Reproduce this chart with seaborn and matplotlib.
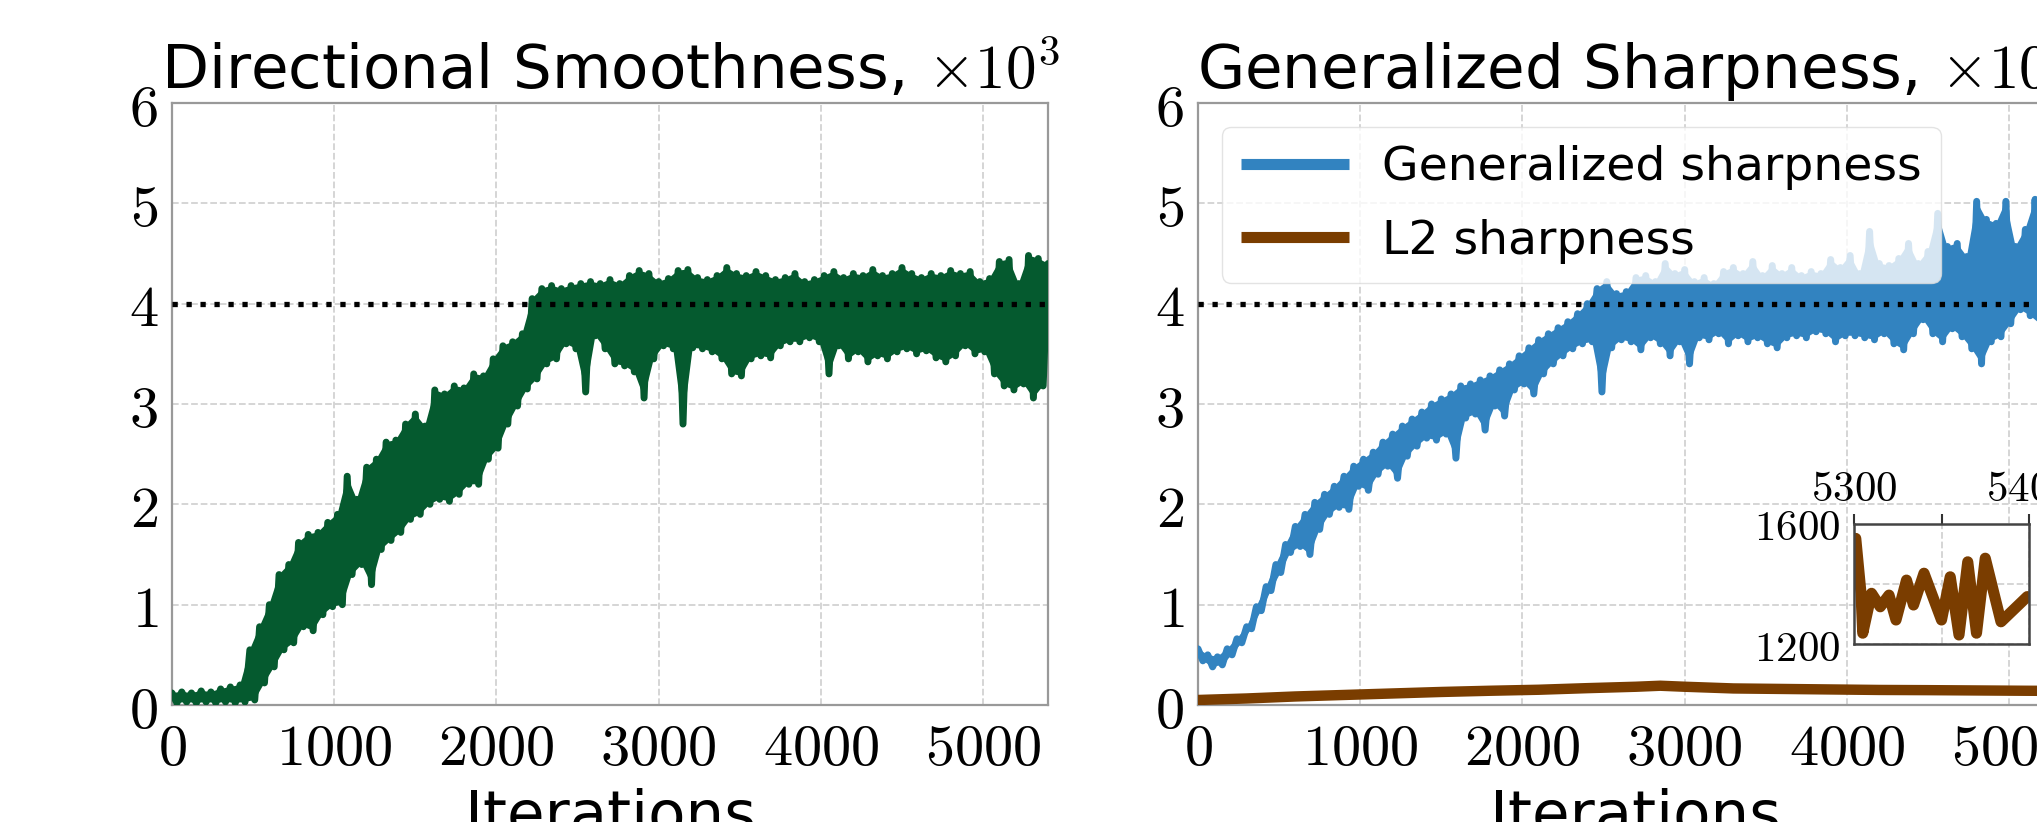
import numpy as np
import pandas as pd
import matplotlib
matplotlib.use("Agg")
import matplotlib.pyplot as plt
from matplotlib.ticker import FuncFormatter
import seaborn as sns

# ---------------- data ----------------
# Directional smoothness (x1e3): upper envelope at iterations 0,60,...,5400
green_hi = [0.12, 0.13, 0.12, 0.14, 0.13, 0.16, 0.18, 0.20, 0.55, 0.78,
            1.00, 1.30, 1.40, 1.62, 1.70, 1.72, 1.82, 1.90, 2.28, 2.05,
            2.37, 2.45, 2.62, 2.64, 2.80, 2.90, 2.78, 3.14, 3.10, 3.18,
            3.16, 3.30, 3.28, 3.45, 3.58, 3.62, 3.70, 4.05, 4.15, 4.18,
            4.15, 4.18, 4.20, 4.22, 4.20, 4.24, 4.20, 4.28, 4.33, 4.30,
            4.22, 4.25, 4.33, 4.34, 4.26, 4.24, 4.28, 4.36, 4.30, 4.28,
            4.32, 4.28, 4.24, 4.26, 4.30, 4.22, 4.24, 4.28, 4.32, 4.26,
            4.30, 4.28, 4.34, 4.28, 4.30, 4.36, 4.30, 4.26, 4.30, 4.28,
            4.33, 4.30, 4.32, 4.22, 4.25, 4.42, 4.44, 4.20, 4.48, 4.45,
            4.40]
# lower envelope at iterations 30,90,...,5370
green_lo = [0.02, 0.03, 0.02, 0.03, 0.02, 0.03, 0.02, 0.03, 0.05, 0.22,
            0.38, 0.55, 0.62, 0.78, 0.74, 0.90, 0.98, 1.00, 1.30, 1.40,
            1.20, 1.55, 1.64, 1.72, 1.85, 1.90, 2.00, 2.05, 2.03, 2.10,
            2.20, 2.20, 2.45, 2.56, 2.80, 2.98, 3.15, 3.25, 3.40, 3.45,
            3.60, 3.55, 3.12, 3.68, 3.55, 3.40, 3.38, 3.32, 3.06, 3.45,
            3.58, 3.55, 2.80, 3.56, 3.55, 3.52, 3.45, 3.30, 3.28, 3.45,
            3.48, 3.46, 3.58, 3.62, 3.62, 3.66, 3.62, 3.30, 3.58, 3.45,
            3.52, 3.42, 3.48, 3.45, 3.52, 3.55, 3.50, 3.53, 3.46, 3.42,
            3.48, 3.58, 3.50, 3.52, 3.30, 3.18, 3.14, 3.20, 3.06, 3.18]

# Generalized sharpness (x1e4): upper envelope at 0,60,...,5400
blue_hi = [0.56, 0.50, 0.48, 0.56, 0.66, 0.78, 0.98, 1.18, 1.40, 1.60,
           1.78, 1.90, 2.02, 2.10, 2.18, 2.28, 2.38, 2.45, 2.52, 2.62,
           2.70, 2.78, 2.85, 2.92, 3.00, 3.05, 3.10, 3.18, 3.20, 3.24,
           3.28, 3.34, 3.40, 3.48, 3.56, 3.64, 3.70, 3.76, 3.82, 3.90,
           4.00, 4.15, 4.22, 4.10, 4.12, 4.26, 4.28, 4.22, 4.40, 4.30,
           4.34, 4.22, 4.26, 4.20, 4.32, 4.36, 4.30, 4.42, 4.28, 4.38,
           4.30, 4.36, 4.28, 4.32, 4.30, 4.44, 4.36, 4.48, 4.30, 4.72,
           4.40, 4.38, 4.45, 4.60, 4.40, 4.52, 4.90, 4.57, 4.60, 4.47,
           5.02, 4.84, 4.80, 5.02, 4.57, 4.74, 5.04, 4.70, 4.85, 4.60,
           4.75]
# lower envelope at 30,90,...,5370
blue_lo = [0.44, 0.38, 0.40, 0.50, 0.62, 0.76, 0.94, 1.14, 1.32, 1.52,
           1.58, 1.50, 1.75, 1.90, 1.97, 1.95, 2.18, 2.14, 2.30, 2.38,
           2.26, 2.48, 2.58, 2.66, 2.64, 2.70, 2.46, 2.86, 2.90, 2.74,
           2.98, 2.88, 3.14, 3.20, 3.10, 3.30, 3.40, 3.48, 3.55, 3.60,
           3.62, 3.12, 3.56, 3.64, 3.62, 3.54, 3.66, 3.60, 3.48, 3.62,
           3.40, 3.66, 3.64, 3.70, 3.60, 3.68, 3.62, 3.66, 3.60, 3.56,
           3.66, 3.68, 3.66, 3.72, 3.70, 3.62, 3.68, 3.68, 3.66, 3.64,
           3.70, 3.60, 3.54, 3.70, 3.84, 3.70, 3.62, 3.75, 3.67, 3.55,
           3.40, 3.62, 3.67, 3.80, 3.94, 3.88, 3.80, 3.85, 3.75, 3.82]

# L2 sharpness (raw units)
l2_iters = [0, 300, 600, 900, 1200, 1500, 1800, 2100, 2400, 2700,
            2850, 3000, 3300, 3600, 3900, 4200, 4500, 4800, 5100, 5400]
l2_vals = [500, 650, 850, 1000, 1150, 1300, 1420, 1520, 1680, 1820,
           1920, 1820, 1650, 1600, 1550, 1500, 1480, 1450, 1420, 1400]

# inset: L2 sharpness, iterations 5300-5400
inset_iters = [5301, 5304, 5305, 5310, 5315, 5320, 5324, 5330, 5334, 5340,
               5350, 5355, 5360, 5365, 5370, 5375, 5384, 5399]
inset_vals = [1552, 1369, 1236, 1369, 1324, 1363, 1280, 1413, 1330, 1436,
              1280, 1424, 1230, 1474, 1236, 1486, 1274, 1358]

xticks_main = [0, 1000, 2000, 3000, 4000, 5000]
yticks_main = [0, 1, 2, 3, 4, 5, 6]
titles = ["Directional Smoothness, $\\times 10^3$",
          "Generalized Sharpness, $\\times 10^4$"]
legend_labels = ["Generalized sharpness", "L2 sharpness"]

GREEN = "#055a2f"
BLUE = "#3283c0"
BROWN = "#7a3d00"
ROUND = dict(solid_joinstyle="round", solid_capstyle="round")


def draw_band(ax, hi, lo, color, label=None):
    x_hi = np.arange(len(hi)) * 60
    x_lo = np.arange(len(lo)) * 60 + 30
    # solid band: polygon through the upper then the lower envelope points
    ax.fill(np.r_[x_hi, x_lo[::-1]], np.r_[hi, lo[::-1]],
            color=color, lw=0, zorder=3)
    # the noisy trace itself: alternating upper / lower readings
    x = np.empty(len(hi) + len(lo))
    y = np.empty(len(hi) + len(lo))
    x[0::2], x[1::2] = x_hi, x_lo
    y[0::2], y[1::2] = hi, lo
    sns.lineplot(x=x, y=y, ax=ax, color=color, lw=5, estimator=None,
                 sort=False, zorder=3, label=label, **ROUND)


sns.set_style("whitegrid")
plt.rcParams["font.family"] = ["DejaVu Sans"]
plt.rcParams["mathtext.fontset"] = "cm"
plt.rcParams["text.color"] = "black"
plt.rcParams["axes.labelcolor"] = "black"
plt.rcParams["xtick.color"] = "black"
plt.rcParams["ytick.color"] = "black"

fig = plt.figure(figsize=(20.37, 8.22), dpi=100)
W, H = 2037, 822
ax1 = fig.add_axes([172 / W, (H - 705) / H, 876 / W, 602 / H])
ax2 = fig.add_axes([1198 / W, (H - 705) / H, 876 / W, 602 / H])

fmt = FuncFormatter(lambda v, p: f"${v:g}$")

draw_band(ax1, green_hi, green_lo, GREEN)
draw_band(ax2, blue_hi, blue_lo, BLUE, label=legend_labels[0])
df_l2 = pd.DataFrame({"Iterations": l2_iters,
                      "value": np.array(l2_vals) / 1e4})
sns.lineplot(data=df_l2, x="Iterations", y="value", ax=ax2, color=BROWN,
             lw=7.5, estimator=None, sort=False, zorder=3,
             label=legend_labels[1], **ROUND)

for ax, title in zip([ax1, ax2], titles):
    ax.axhline(4, color="black", ls=":", lw=3.8, zorder=4)
    ax.set_xlim(0, 5400)
    ax.set_ylim(0, 6)
    ax.set_xticks(xticks_main)
    ax.set_yticks(yticks_main)
    ax.xaxis.set_major_formatter(fmt)
    ax.yaxis.set_major_formatter(fmt)
    ax.tick_params(axis="both", labelsize=42, length=6, width=1.5,
                   color="#888888", labelcolor="black", pad=4)
    ax.tick_params(axis="x", pad=5)
    ax.grid(True, ls="--", color="#d2d2d2", lw=1.3)
    for s in ax.spines.values():
        s.set_color("#999999")
        s.set_linewidth(1.6)
    ax.set_title(title, fontsize=44, pad=10, color="black")
    ax.set_xlabel("Iterations", fontsize=44, labelpad=8, color="black")
    ax.set_ylabel("")

leg = ax2.legend(loc="upper left", fontsize=34, framealpha=0.8,
                 handlelength=2.3, handletextpad=0.7, labelspacing=0.6,
                 edgecolor="#dddddd")
for ln in leg.get_lines():
    ln.set_linewidth(8)
    ln.set_solid_capstyle("butt")
for t in leg.get_texts():
    t.set_color("black")

# inset
axi = fig.add_axes([1854 / W, (H - 644) / H, 175 / W, 120 / H])
axi.set_facecolor("white")
df_in = pd.DataFrame({"Iterations": inset_iters, "value": inset_vals})
sns.lineplot(data=df_in, x="Iterations", y="value", ax=axi, color=BROWN,
             lw=8, estimator=None, sort=False, **ROUND)
axi.set_xlim(5300, 5400)
axi.set_ylim(1200, 1600)
axi.xaxis.tick_top()
axi.set_xticks([5300, 5350, 5400])
axi.set_xticklabels(["$5300$", "", "$5400$"])
axi.set_yticks([1200, 1400, 1600])
axi.set_yticklabels(["$1200$", "", "$1600$"])
axi.tick_params(axis="both", labelsize=31, length=7, width=1.5,
                color="#333333", labelcolor="black", pad=3)
axi.grid(True, ls="--", color="#d2d2d2", lw=1.3)
for s in axi.spines.values():
    s.set_color("#444444")
    s.set_linewidth(1.8)
axi.set_xlabel("")
axi.set_ylabel("")

fig.savefig("out.png", dpi=100)
